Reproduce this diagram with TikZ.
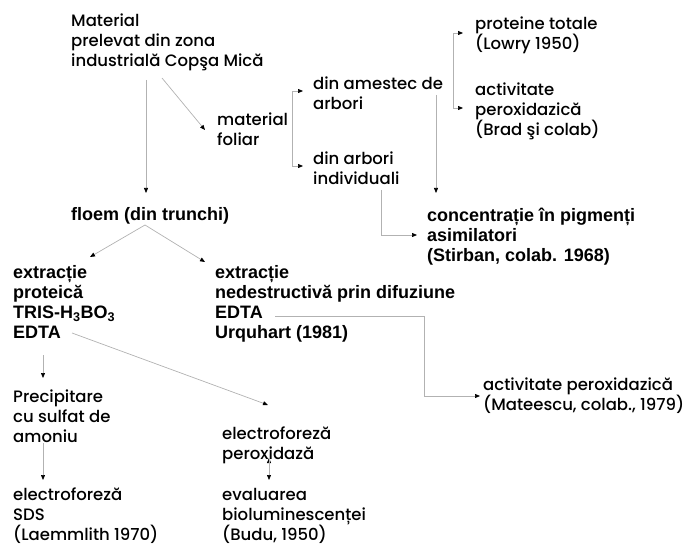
\documentclass[tikz,border=0pt]{standalone}
\usepackage{fontspec}
\setmainfont{Liberation Sans}
\newfontfamily\geo{Poppins}[UprightFont=* Medium]
\usetikzlibrary{arrows.meta,calc,positioning}
\definecolor{linegray}{RGB}{178,178,178}

\begin{document}
\begin{tikzpicture}[x=1pt,y=-1pt,
  txt/.style={anchor=north west,inner sep=0pt,align=left,font=\geo\fontsize{16.5}{20}\selectfont},
  btxt/.style={txt,font=\bfseries\fontsize{18}{20}\selectfont},
  arr/.style={draw=linegray,line width=0.7pt,-{Triangle[length=5pt,width=4pt,black]}}]
\useasboundingbox (0,0) rectangle (696,553);
% text blocks
\node[txt] (mat) at (71,14) {Material\\prelevat din zona\\industrială Copşa Mică};
\node[txt] (foliar) at (217,113) {material\\foliar};
\node[txt] (amestec) at (313,77) {din amestec de\\arbori};
\node[txt] (indiv) at (313,152) {din arbori\\individuali};
\node[txt] (prot) at (475,17) {proteine totale\\(Lowry 1950)};
\node[txt] (perox) at (475,83) {activitate\\peroxidazică\\(Brad şi colab)};
\node[btxt] (pigm) at (427,208) {concentrație în pigmenți\\asimilatori\\(Stirban, colab. 1968)};
\node[btxt] (floem) at (71,207) {floem (din trunchi)};
\node[btxt] (extrP) at (13,265) {extracție\\proteică\\TRIS-H\textsubscript{3}BO\textsubscript{3}\\EDTA};
\node[btxt] (extrN) at (215,265) {extracție\\nedestructivă prin difuziune\\EDTA\\Urquhart (1981)};
\node[txt] (mateescu) at (483,378) {activitate peroxidazică\\(Mateescu, colab., 1979)};
\node[txt] (precip) at (13,390) {Precipitare\\cu sulfat de\\amoniu};
\node[txt] (sds) at (13,488) {electroforeză\\SDS\\(Laemmlith 1970)};
\node[txt] (electro) at (222,427) {electroforeză\\peroxidază};
\node[txt] (biolum) at (222,488) {evaluarea\\bioluminescenței\\(Budu, 1950)};
% connectors
\path[arr]
($(mat.north west)+(75,66)$) edge ($(floem.north west)+(75,-14)$)
($(mat.north west)+(91,64)$) edge ($(foliar.north west)+(-12,17)$)
($(amestec.north west)+(123,18)$) edge ($(pigm.north west)+(9,-15)$)
($(floem.north west)+(74,18)$) edge ($(extrP.north west)+(77,-8)$)
($(floem.north west)+(74,18)$) edge ($(extrN.north west)+(-10,-3)$)
($(extrP.north west)+(30,90)$) edge ($(precip.north west)+(30,-12)$)
($(extrP.north west)+(59,68)$) edge ($(electro.north west)+(46,-22)$)
($(precip.north west)+(30,53)$) edge ($(sds.north west)+(30,-8)$)
($(electro.north west)+(47,31)$) edge ($(biolum.north west)+(47,-8)$);
\draw[arr] ($(foliar.north west)+(75,17)$) |- ($(amestec.north west)+(-10,14)$);
\draw[arr] ($(foliar.north west)+(75,17)$) |- ($(indiv.north west)+(-10,14)$);
\draw[arr] ($(amestec.north west)+(140,18)$) |- ($(prot.north west)+(-12,16)$);
\draw[arr] ($(amestec.north west)+(140,18)$) |- ($(perox.north west)+(-12,25)$);
\draw[arr] ($(indiv.north west)+(68,38)$) |- ($(pigm.north west)+(-10,27)$);
\draw[arr] ($(extrN.north west)+(60,51)$) -- ++(149,0) |- ($(mateescu.north west)+(-3,18)$);
\end{tikzpicture}
\end{document}
